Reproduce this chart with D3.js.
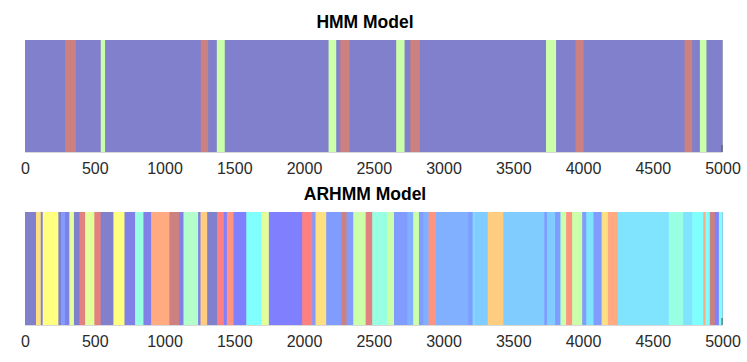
<!DOCTYPE html>
<html lang="en">
<head>
    <meta charset="UTF-8">
    <title>HMM vs ARHMM state sequences</title>
    <script src="https://d3js.org/d3.v7.min.js"></script>
    <style>
        body {
            margin: 0;
            padding: 0;
            background-color: white;
            font-family: 'Liberation Sans', Arial, Helvetica, sans-serif;
        }
        .tick text {
            font-size: 16px;
            fill: #2a2a2a;
        }
        .title {
            font-size: 17.5px;
            font-weight: bold;
            fill: #000;
        }
    </style>
</head>
<body>
    <div id="chart"></div>

    <script>
        // state colours (jet-like, washed out)
        const stateColors = {
            P:   "#8080cc",
            B:   "#8080e6",
            B1:  "#8080ff",
            LB:  "#809cff",
            LB2: "#80b0ff",
            SK:  "#80ccff",
            SK2: "#80d9ff",
            CS:  "#80e4ff",
            CY:  "#80ffff",
            AQ:  "#99ffe3",
            LG:  "#b3ffcc",
            YG:  "#ccffaa",
            YG2: "#e3ff99",
            Y:   "#ffff80",
            OY:  "#ffe080",
            OY2: "#ffcc80",
            OR:  "#ffaa80",
            SA:  "#ff9580",
            R:   "#ff8080",
            R2:  "#e38080",
            DR:  "#cc8080"
        };

        const xTicks = [0, 500, 1000, 1500, 2000, 2500, 3000, 3500, 4000, 4500, 5000];
        const seqLength = 5000;

        // HMM: segment start times and states
        const hmmStarts = [0, 287, 364, 543, 574, 1260, 1313, 1375, 1432, 2176, 2231, 2260, 2327,
                           2661, 2721, 2762, 2831, 3735, 3807, 3946, 4005, 4728, 4783, 4838, 4885];
        const hmmStates = ["P", "DR", "P", "YG", "P", "DR", "P", "YG", "P", "YG", "P", "DR", "P",
                           "YG", "P", "DR", "P", "YG", "P", "DR", "P", "DR", "P", "YG", "P"];

        // ARHMM: segment start times and states
        const arStarts = [0, 79, 113, 127, 239, 258, 287, 318, 351, 390, 431, 497, 543, 634, 713,
                          789, 849, 904, 1035, 1107, 1136, 1241, 1258, 1306, 1377, 1425, 1447, 1495,
                          1586, 1693, 1748, 1987, 2059, 2083, 2159, 2269, 2305, 2353, 2442, 2489,
                          2597, 2645, 2740, 2783, 2824, 2855, 2893, 2946, 3178, 3209, 3226, 3317,
                          3429, 3723, 3742, 3800, 3838, 3848, 3879, 3922, 3994, 4023, 4075, 4130,
                          4137, 4178, 4250, 4615, 4718, 4783, 4862, 4878, 4909, 4945, 4974];
        const arStates = ["P", "OY", "B", "Y", "P", "LB", "B", "YG2", "P", "R2", "YG2", "R2", "P", "Y", "B",
                          "AQ", "B", "OR", "DR", "B", "LG", "B", "OY2", "P", "R", "B1", "SA", "B1",
                          "CY", "YG2", "B1", "R", "LB", "OY", "LB", "DR", "LB", "YG", "R2", "AQ",
                          "YG", "LB", "LB2", "YG", "LB", "LB2", "SA", "LB2", "LB", "SK2", "SK", "OY2",
                          "SK", "LB", "SK", "LB", "LG", "YG", "SA", "YG", "LB", "CS", "LB", "SK",
                          "OY", "OR", "CS", "AQ", "CS", "CY", "OR", "CY", "DR", "B1", "CY"];

        const width = 747, height = 362;
        const svg = d3.select("#chart").append("svg")
            .attr("width", width)
            .attr("height", height);

        const x = d3.scaleLinear().domain([0, seqLength]).range([25, 722.5]);

        const panels = [
            {title: "HMM Model", starts: hmmStarts, states: hmmStates, top: 40, bottom: 152},
            {title: "ARHMM Model", starts: arStarts, states: arStates, top: 212, bottom: 325}
        ];

        panels.forEach(p => {
            const g = svg.append("g");
            const segs = p.starts.map((s, i) => ({start: s, state: p.states[i]}));

            // each segment runs to the end; later ones paint over -> no seams
            g.selectAll("rect")
                .data(segs)
                .join("rect")
                .attr("x", d => x(d.start))
                .attr("y", p.top)
                .attr("width", d => x(seqLength) - x(d.start))
                .attr("height", p.bottom - p.top)
                .attr("fill", d => stateColors[d.state]);

            // faint bottom spine
            g.append("line")
                .attr("x1", x(0)).attr("x2", x(seqLength))
                .attr("y1", p.bottom + 0.5).attr("y2", p.bottom + 0.5)
                .attr("stroke", "#d8d8d8");

            // small dark tick at the right end
            g.append("line")
                .attr("x1", x(seqLength) - 0.5).attr("x2", x(seqLength) - 0.5)
                .attr("y1", p.bottom - 7).attr("y2", p.bottom)
                .attr("stroke", "#555");

            const axis = g.append("g")
                .attr("transform", `translate(0,${p.bottom})`)
                .call(d3.axisBottom(x).tickValues(xTicks).tickSize(0).tickPadding(11).tickFormat(d3.format("d")));
            axis.select(".domain").remove();
            axis.selectAll("text").attr("font-family", null);

            g.append("text")
                .attr("class", "title")
                .attr("x", 365)
                .attr("y", p.top - 12)
                .attr("text-anchor", "middle")
                .text(p.title);
        });
    </script>
</body>
</html>
